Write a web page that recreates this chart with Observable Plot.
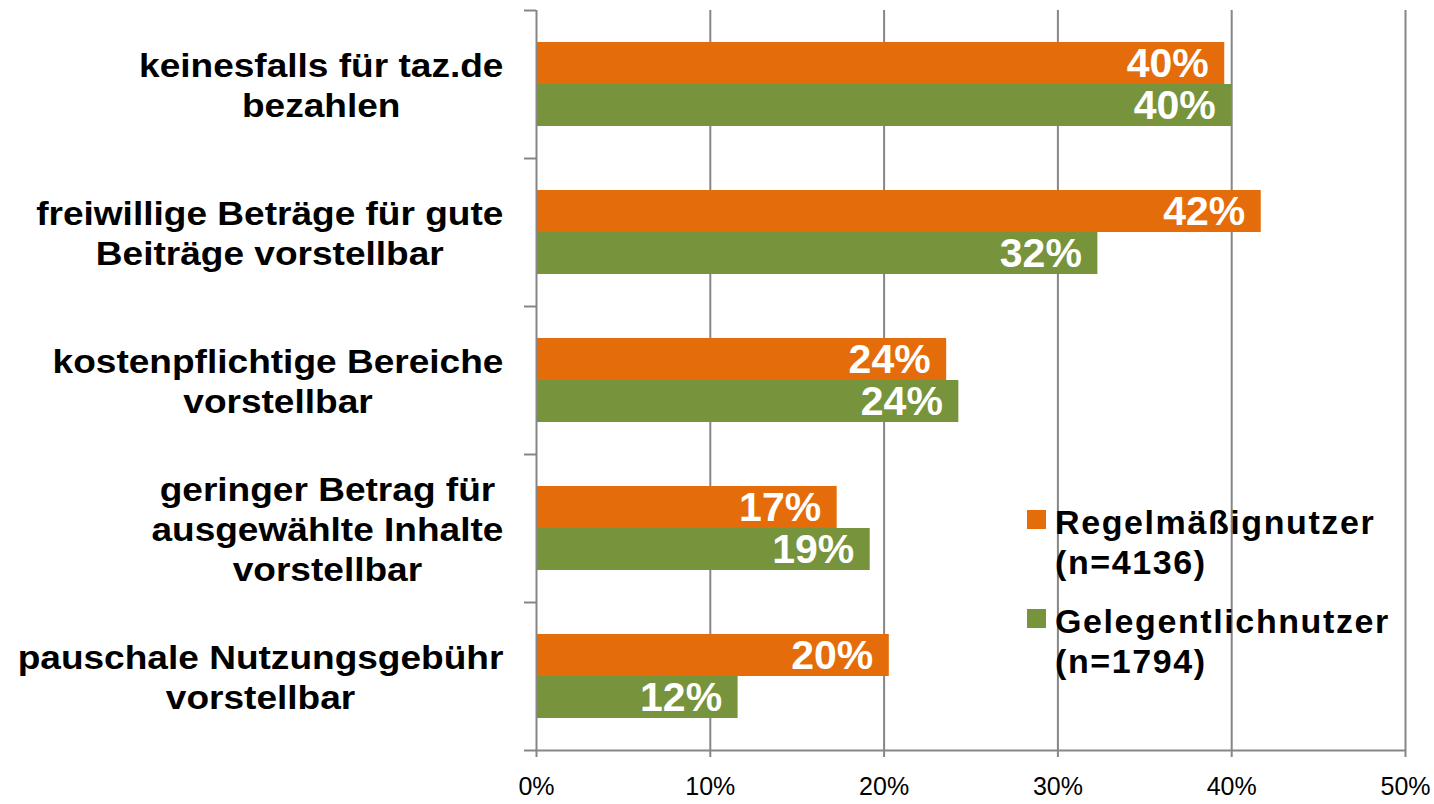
<!DOCTYPE html>
<html><head><meta charset="utf-8">
<script src="https://cdn.jsdelivr.net/npm/d3@7"></script>
<script src="https://cdn.jsdelivr.net/npm/@observablehq/plot@0.6"></script>
<style>
body{margin:0;background:#fff;}
#wrap{position:relative;width:1434px;height:804px;overflow:hidden;font-family:"Liberation Sans",Arial,sans-serif;background:#fff;}
.legend{position:absolute;left:1027px;top:502px;font-weight:bold;font-size:34px;line-height:40px;color:#000;white-space:nowrap;letter-spacing:1.6px;}
.item{position:relative;padding-left:28px;}
.item + .item{margin-top:19px;}
.sw{position:absolute;left:0;top:8px;width:19px;height:19px;}
</style></head><body><div id="wrap"></div>
<script>
const categories = [
  "keinesfalls für taz.de\nbezahlen",
  "freiwillige Beträge für gute\nBeiträge vorstellbar",
  "kostenpflichtige Bereiche\nvorstellbar",
  "geringer Betrag für\nausgewählte Inhalte\nvorstellbar",
  "pauschale Nutzungsgebühr\nvorstellbar"
];
const seriesNames = ["Regelmäßignutzer", "Gelegentlichnutzer"];
const seriesN = ["(n=4136)", "(n=1794)"];
const regelmaessig = [39.6, 41.7, 23.6, 17.3, 20.3];
const gelegentlich = [40.0, 32.3, 24.3, 19.2, 11.6];
const colors = ["#E46C0A", "#77933C"];
const xTicks = [0, 10, 20, 30, 40, 50];

// layout within each category band (fraction of band)
const barTop = 32 / 148, barH = 42 / 148;
const seriesValues = [regelmaessig, gelegentlich];
const rows = [];
categories.forEach((c, i) => {
  seriesNames.forEach((s, k) => {
    const y1 = i + barTop + k * barH;
    rows.push({cat: c, s, value: seriesValues[k][i], y1, y2: y1 + barH});
  });
});

const grid = "#868686";
const plot = Plot.plot({
  width: 1434,
  height: 804,
  marginLeft: 536,
  marginRight: 29,
  marginTop: 10,
  marginBottom: 54,
  style: {fontFamily: "'Liberation Sans', Arial, sans-serif", background: "#fff", color: "#000"},
  x: {domain: [0, 50], axis: null},
  y: {domain: [0, categories.length], reverse: true, axis: null},
  color: {domain: seriesNames, range: colors},
  marks: [
    Plot.ruleX(xTicks.slice(1), {stroke: grid, strokeWidth: 2}),
    Plot.rect(rows, {x1: () => 0, x2: "value", y1: "y1", y2: "y2", fill: "s"}),
    Plot.ruleX([0], {stroke: grid, strokeWidth: 2}),
    Plot.ruleY([categories.length], {stroke: grid, strokeWidth: 2}),
    Plot.axisY({ticks: d3.range(categories.length + 1), tickSize: 12, tickFormat: () => "", stroke: grid, strokeWidth: 2, label: null}),
    Plot.axisX({ticks: xTicks, tickSize: 7, tickPadding: 20, tickFormat: d => d + "%", stroke: grid, strokeWidth: 2, fill: "#000", fontSize: 25, label: null}),
    Plot.text(rows, {x: "value", y: d => (d.y1 + d.y2) / 2, text: d => Math.round(d.value) + "%", textAnchor: "end", dx: -16, dy: 0, fill: "white", fontWeight: "bold", fontSize: 41}),
    Plot.text(categories, {x: () => 0, y: (d, i) => i + 0.5, text: d => d, textAnchor: "end", dx: -33, fontSize: 34, fontWeight: "bold", lineHeight: 1.18, fill: "#000"})
  ]
});

const wrap = document.getElementById("wrap");
wrap.append(plot);

// x tick labels: enforce size (the texts in the x-axis label group)
plot.querySelectorAll('g[aria-label="x-axis tick label"], g[aria-label="x-axis tick label"] text').forEach(el => {
  el.style.fontSize = "25px";
});

// center-align each multi-line category label within its own block, slightly widened
const textGroups = plot.querySelectorAll('g[aria-label="text"]');
const catGroup = textGroups[textGroups.length - 1];
const sx = 1.09;
catGroup.querySelectorAll("text").forEach(t => {
  const w = t.getBBox().width;
  t.setAttribute("text-anchor", "middle");
  t.setAttribute("transform", (t.getAttribute("transform") || "") + ` translate(${-sx * w / 2},0) scale(${sx},1)`);
});

// legend
const legend = document.createElement("div");
legend.className = "legend";
seriesNames.forEach((s, k) => {
  const item = document.createElement("div");
  item.className = "item";
  const sw = document.createElement("span");
  sw.className = "sw";
  sw.style.background = colors[k];
  item.append(sw);
  item.append(document.createTextNode(s));
  item.append(document.createElement("br"));
  item.append(document.createTextNode(seriesN[k]));
  legend.append(item);
});
wrap.append(legend);
</script>
</body></html>
